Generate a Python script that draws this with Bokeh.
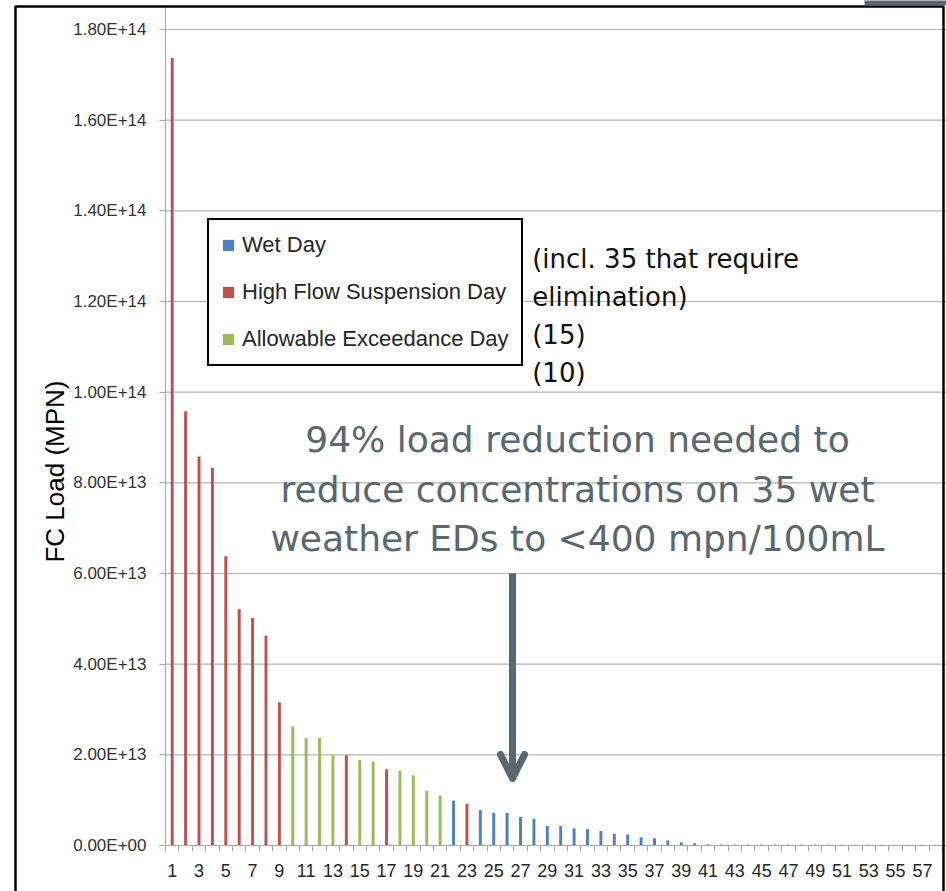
import math
from bokeh.plotting import figure
from bokeh.models import (ColumnDataSource, Range1d, FixedTicker, CustomJSTickFormatter,
                          Legend, LegendItem, Label, Arrow, OpenHead, BoxAnnotation)
from bokeh.embed import file_html
from bokeh.resources import INLINE

# ---------------- data ----------------
days = list(range(1, 59))
loads_e13 = [17.37, 9.58, 8.58, 8.33, 6.38, 5.21, 5.02, 4.63, 3.16, 2.63,
             2.37, 2.37, 1.99, 1.99, 1.89, 1.85, 1.68, 1.65, 1.55, 1.21,
             1.10, 0.99, 0.92, 0.78, 0.72, 0.72, 0.63, 0.59, 0.43, 0.43,
             0.38, 0.36, 0.32, 0.26, 0.24, 0.18, 0.16, 0.11, 0.07, 0.05,
             0.025, 0.02, 0.02, 0.02, 0.02, 0.02, 0.018, 0.018, 0.018, 0.018,
             0.016, 0.016, 0.016, 0.015, 0.015, 0.015, 0.015, 0.015]
day_type = (["H"] * 9 + ["A"] * 4 + ["H"] + ["A"] * 2 + ["H"] + ["A"] * 4 +
            ["W", "H"] + ["W"] * 18 + ["H", "W", "H"] + ["W"] * 14)
type_keys = ["W", "H", "A"]
type_labels = ["Wet Day", "High Flow Suspension Day", "Allowable Exceedance Day"]
type_colors = ["#4F81BD", "#C0504D", "#9BBB59"]
y_ticks = [0, 2e13, 4e13, 6e13, 8e13, 1e14, 1.2e14, 1.4e14, 1.6e14, 1.8e14]
x_tick_labels = list(range(1, 58, 2))
right_notes = ["(incl. 35 that require", "elimination)", "(15)", "(10)"]
callout = ["94% load reduction needed to", "reduce concentrations on 35 wet",
           "weather EDs to <400 mpn/100mL"]

loads = [v * 1e13 for v in loads_e13]

# ---------------- geometry (the frame fills the whole canvas; axes are pinned) ----------------
W, H = 946, 891
AX_LEFT, AX_BOTTOM = 165, 845          # pixel position of the axes
SX = 777 / 58.0                         # pixels per day
PX_Y = 1.8e14 / 816                     # data units per pixel (y)
X_START = 0.5 - AX_LEFT / SX
X_END = X_START + W / SX
Y_START = -(H - AX_BOTTOM) * PX_Y
Y_END = AX_BOTTOM * PX_Y


def dx(px):
    return X_START + px / SX


def dy(py):
    return (AX_BOTTOM - py) * PX_Y


p = figure(width=W, height=H, x_range=Range1d(X_START, X_END), y_range=Range1d(Y_START, Y_END),
           output_backend="svg", toolbar_location=None,
           min_border_left=0, min_border_right=0, min_border_top=0, min_border_bottom=0)
p.outline_line_color = None
p.background_fill_color = "white"
p.border_fill_color = "white"
p.xgrid.grid_line_color = None
p.ygrid.grid_line_color = None

GRAY_AX = "#A6A6A6"
# horizontal gridlines, only across the plotting area
p.segment(x0=[0.5] * (len(y_ticks) - 1), x1=[X_END] * (len(y_ticks) - 1),
          y0=y_ticks[1:], y1=y_ticks[1:], line_color="#B3B3B3", line_width=1.2)

# y axis
p.yaxis.fixed_location = 0.5
p.yaxis.bounds = (0, dy(6))
p.yaxis.ticker = FixedTicker(ticks=y_ticks)
p.yaxis.formatter = CustomJSTickFormatter(code="""
const s = tick.toExponential(2).toUpperCase();
return s.replace(/E([+-])(\\d)$/, (m, sg, d) => 'E' + sg + '0' + d);
""")
p.yaxis.axis_line_color = GRAY_AX
p.yaxis.major_tick_line_color = GRAY_AX
p.yaxis.major_tick_out = 6
p.yaxis.major_tick_in = 0
p.yaxis.minor_tick_line_color = None
p.yaxis.major_label_standoff = 13
p.yaxis.major_label_text_font = "Liberation Sans"
p.yaxis.major_label_text_font_size = "17px"
p.yaxis.major_label_text_color = "#333333"

# x axis
p.xaxis.fixed_location = 0
p.xaxis.bounds = (0.5 - 6 / SX, X_END)
p.xaxis.ticker = FixedTicker(ticks=x_tick_labels, minor_ticks=[d - 0.5 for d in days] + [58.5])
p.xaxis.axis_line_color = GRAY_AX
p.xaxis.major_tick_line_color = None
p.xaxis.major_tick_out = 6
p.xaxis.major_tick_in = 0
p.xaxis.minor_tick_line_color = GRAY_AX
p.xaxis.minor_tick_out = 6
p.xaxis.minor_tick_in = 0
p.xaxis.major_label_standoff = 12
p.xaxis.major_label_text_font = "Liberation Sans"
p.xaxis.major_label_text_font_size = "18px"
p.xaxis.major_label_text_color = "#262626"

# bars
items = []
for key, lab, col in zip(type_keys, type_labels, type_colors):
    idx = [i for i, t in enumerate(day_type) if t == key]
    src = ColumnDataSource(dict(x=[days[i] for i in idx], top=[loads[i] for i in idx]))
    r = p.vbar(x="x", top="top", width=0.22, source=src, fill_color=col, line_color=None)
    items.append(LegendItem(label=lab, renderers=[r]))

legend = Legend(items=items, location=(207, H - 366), glyph_width=14, glyph_height=14,
                label_text_font="Liberation Sans", label_text_font_size="22px",
                label_text_color="#262626", label_standoff=7, spacing=21, padding=12,
                label_height=25, margin=0, border_line_color="black", border_line_width=2,
                border_line_alpha=1.0,
                background_fill_color="white", background_fill_alpha=1.0)
p.add_layout(legend, "center")

# right-hand notes
for txt, py in zip(right_notes, [258, 296, 334, 372]):
    p.add_layout(Label(x=dx(531.7), y=dy(py), text=txt, text_font="DejaVu Sans",
                       text_font_size="26px", text_color="#111111",
                       text_align="left", text_baseline="alphabetic"))

# callout text
SLATE = "#596770"
for txt, py in zip(callout, [439, 488.5, 538]):
    p.add_layout(Label(x=dx(577), y=dy(py), text=txt, text_font="DejaVu Sans",
                       text_font_size="36px", text_color=SLATE,
                       text_align="center", text_baseline="alphabetic"))

# arrow
p.add_layout(Arrow(end=OpenHead(size=24, line_width=7, line_color=SLATE, line_cap="round",
                                line_join="round"),
                   x_start=dx(512), y_start=dy(573), x_end=dx(512), y_end=dy(778),
                   line_width=7, line_color=SLATE))

# axis title
p.add_layout(Label(x=dx(54), y=dy(471), angle=math.pi / 2,
                   text="FC Load (MPN)", text_font="Liberation Sans", text_font_size="26px",
                   text_color="black", text_align="center", text_baseline="alphabetic"))

# outer slide frame
p.add_layout(BoxAnnotation(left=dx(15), right=dx(943), top=dy(6), bottom=dy(980),
                           fill_alpha=0, line_color="black", line_alpha=1.0, line_width=2.5))
# dark slide-band fragment at top right
p.add_layout(BoxAnnotation(left=dx(864), right=dx(960), top=dy(-10), bottom=dy(5),
                           fill_color="#5A6670", fill_alpha=1, line_color=None))

open("out.html", "w").write(file_html(p, INLINE))
